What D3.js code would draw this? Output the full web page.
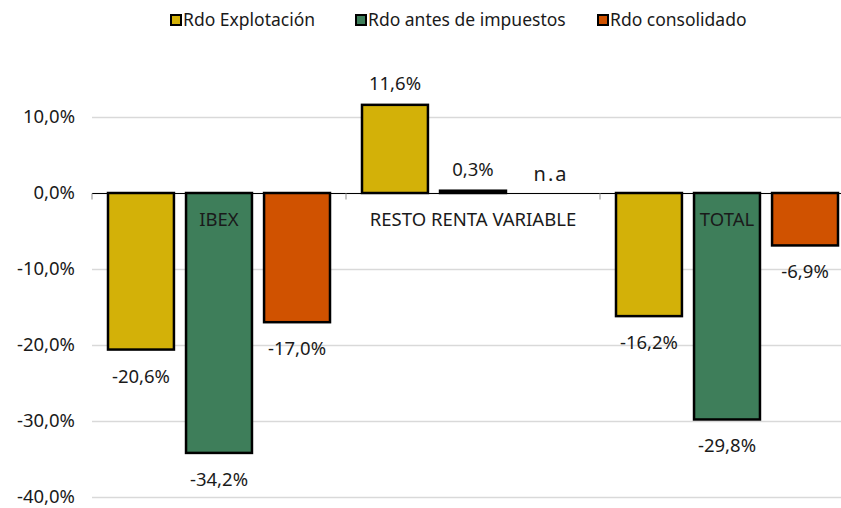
<!DOCTYPE html>
<html>
<head>
<meta charset="utf-8">
<script src="https://cdn.jsdelivr.net/npm/d3@7"></script>
<style>
body{margin:0;background:#fff;}
text{font-family:"Noto Sans","Open Sans",sans-serif;fill:#1a1a1a;}
</style>
</head>
<body>
<svg id="chart"></svg>
<script>
var categories=["IBEX","RESTO RENTA VARIABLE","TOTAL"];
var seriesNames=["Rdo Explotación","Rdo antes de impuestos","Rdo consolidado"];
var rdoExplotacion=[-20.6,11.6,-16.2];
var rdoAntes=[-34.2,0.3,-29.8];
var rdoConsolidado=[-17.0,null,-6.9];
var yTicks=[10,0,-10,-20,-30,-40];
var colors=["#D3B108","#3E7E5A","#D05200"];

var w=841;
var h=508;
var margin={left:92,right:-13,top:79,bottom:11};

var series=[rdoExplotacion,rdoAntes,rdoConsolidado];
var data=[];
categories.forEach(function(c,i){
  series.forEach(function(s,j){
    data.push({cat:c,key:seriesNames[j],value:s[i],idx:j});
  });
});

// comma decimals, plain hyphen for negatives
function pct(v){
  return d3.format(".1f")(v).replace("−","-").replace(".",",")+"%";
}

var svg=d3.select("#chart")
          .attr("width",w)
          .attr("height",h);

var xScale=d3.scaleBand()
             .domain(categories)
             .range([margin.left,w-margin.right])
             .paddingInner(0)
             .paddingOuter(0);
var xInner=d3.scaleBand()
             .domain(seriesNames)
             .range([16,xScale.bandwidth()-16])
             .paddingInner(0.155);
var yScale=d3.scaleLinear()
             .domain([-40,15])
             .range([h-margin.bottom,margin.top]);

// gridlines
svg.append("g")
   .selectAll("line")
   .data(yTicks)
   .enter()
   .append("line")
   .attr("x1",margin.left)
   .attr("x2",w)
   .attr("y1",function(d){return Math.round(yScale(d))+0.5;})
   .attr("y2",function(d){return Math.round(yScale(d))+0.5;})
   .attr("stroke","#d9d9d9")
   .attr("stroke-width",1.3);

// y axis labels
var yAxis=d3.axisLeft(yScale)
            .tickValues(yTicks)
            .tickSize(0)
            .tickPadding(0)
            .tickFormat(pct);
var yg=svg.append("g")
          .attr("transform","translate(75,0)")
          .call(yAxis);
yg.select(".domain").remove();
yg.selectAll("text")
  .attr("font-size",18.5)
  .attr("font-family","Noto Sans")
  .attr("fill","#1a1a1a");

// bars
var bars=data.filter(function(d){return d.value!==null;});
svg.append("g")
   .selectAll("rect")
   .data(bars)
   .enter()
   .append("rect")
   .attr("x",function(d){return xScale(d.cat)+xInner(d.key);})
   .attr("width",xInner.bandwidth())
   .attr("y",function(d){return yScale(Math.max(0,d.value));})
   .attr("height",function(d){return Math.abs(yScale(d.value)-yScale(0));})
   .attr("fill",function(d){return colors[d.idx];})
   .attr("stroke","#000")
   .attr("stroke-width",2.5);

// zero axis with ticks
var x0=Math.round(yScale(0))+0.5;
svg.append("line")
   .attr("x1",margin.left)
   .attr("x2",w)
   .attr("y1",x0)
   .attr("y2",x0)
   .attr("stroke","#000")
   .attr("stroke-width",1.2);
svg.append("g")
   .selectAll("line")
   .data(categories)
   .enter()
   .append("line")
   .attr("x1",function(d){return xScale(d);})
   .attr("x2",function(d){return xScale(d);})
   .attr("y1",x0)
   .attr("y2",x0+6)
   .attr("stroke","#a6a6a6")
   .attr("stroke-width",1.3);

// category labels
svg.append("g")
   .selectAll("text")
   .data(categories)
   .enter()
   .append("text")
   .attr("x",function(d){return xScale(d)+xScale.bandwidth()/2;})
   .attr("y",x0+32)
   .attr("text-anchor","middle")
   .attr("font-size",18.5)
   .text(function(d){return d;});

// value labels
svg.append("g")
   .selectAll("text")
   .data(data)
   .enter()
   .append("text")
   .attr("x",function(d){return xScale(d.cat)+xInner(d.key)+xInner.bandwidth()/2;})
   .attr("y",function(d){
     if(d.value===null){return yScale(0)-12;}
     if(d.value>=0){return yScale(d.value)-15;}
     return yScale(d.value)+33;
   })
   .attr("text-anchor","middle")
   .attr("font-size",function(d){return d.value===null?20:18.5;})
   .attr("letter-spacing",function(d){return d.value===null?2:0;})
   .text(function(d){
     if(d.value===null){return "n.a";}
     return pct(d.value);
   });

// legend
var legendX=[170,355,597];
var lg=svg.append("g")
          .selectAll("g")
          .data(seriesNames)
          .enter()
          .append("g")
          .attr("transform",function(d,i){return "translate("+legendX[i]+",0)";});
lg.append("rect")
  .attr("x",1)
  .attr("y",15)
  .attr("width",10)
  .attr("height",10)
  .attr("fill",function(d,i){return colors[i];})
  .attr("stroke","#000")
  .attr("stroke-width",2);
lg.append("text")
  .attr("x",13)
  .attr("y",26)
  .attr("font-size",17.5)
  .text(function(d){return d;});
</script>
</body>
</html>
